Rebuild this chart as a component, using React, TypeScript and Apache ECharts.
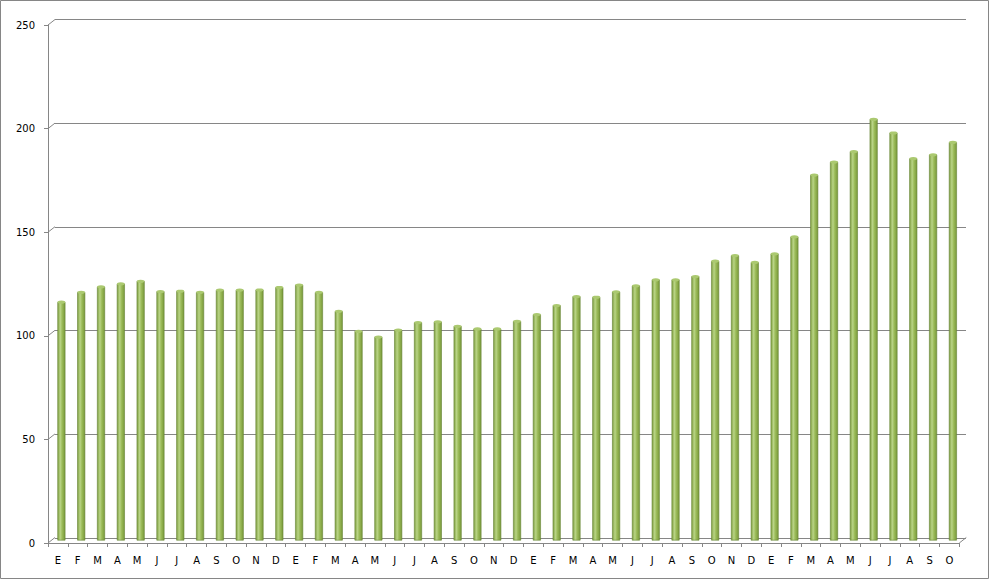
import React, { useEffect, useRef } from "react";
import * as echarts from "echarts";

const months: string[] = [
  "E", "F", "M", "A", "M", "J", "J", "A", "S", "O", "N", "D",
  "E", "F", "M", "A", "M", "J", "J", "A", "S", "O", "N", "D",
  "E", "F", "M", "A", "M", "J", "J", "A", "S", "O", "N", "D",
  "E", "F", "M", "A", "M", "J", "J", "A", "S", "O",
];

const values: number[] = [
  115, 119.8, 122.4, 123.8, 125.1, 120.1, 120.3, 119.8, 120.8, 120.8, 120.9, 122.1,
  123.3, 119.7, 110.6, 101, 98.2, 101.6, 105.2, 105.5, 103.4, 102.1, 102.1, 105.8,
  109, 113.4, 117.7, 117.4, 120, 122.9, 125.8, 125.8, 127.4, 134.8, 137.5, 134.2,
  138.3, 146.5, 176.3, 182.6, 187.6, 203.2, 196.6, 184.2, 186.1, 192.1,
];

const yTicks: number[] = [0, 50, 100, 150, 200, 250];

const GREY = "#868686";

export default function App() {
  const ref = useRef<HTMLDivElement>(null);

  useEffect(() => {
    document.body.style.margin = "0";
    const chart = echarts.init(ref.current!, undefined, { renderer: "svg" });
    const font = { fontFamily: "DejaVu Sans", fontSize: 10, color: "#000" };

    const barGradient = new echarts.graphic.LinearGradient(0, 0, 1, 0, [
      { offset: 0, color: "#7f9f40" },
      { offset: 0.35, color: "#b9d486" },
      { offset: 0.6, color: "#9bbb59" },
      { offset: 1, color: "#789839" },
    ]);

    chart.setOption({
      animation: false,
      backgroundColor: "#ffffff",
      graphic: [
        {
          type: "rect",
          shape: { x: 0.5, y: 0.5, width: 988, height: 578 },
          style: { fill: "none", stroke: GREY, lineWidth: 1 },
          z: -1,
        },
      ],
      grid: [
        { left: 48, top: 25, width: 911.3, height: 518 },
        { left: 55, top: 19.5, width: 911, height: 518.5 },
        { left: 51.5, top: 22, width: 911.3, height: 518.5 },
      ],
      xAxis: [
        {
          type: "category",
          gridIndex: 0,
          data: months,
          axisLine: { show: true, lineStyle: { color: GREY } },
          axisTick: { show: true, length: 4, lineStyle: { color: GREY } },
          axisLabel: { ...font, margin: 12, interval: 0 },
          splitLine: { show: false },
        },
        { type: "category", gridIndex: 1, data: months, show: false },
        { type: "category", gridIndex: 2, data: months, show: false },
      ],
      yAxis: [
        {
          type: "value",
          gridIndex: 0,
          min: 0,
          max: 250,
          interval: 50,
          axisLine: { show: true, lineStyle: { color: GREY } },
          axisTick: { show: true, length: 4, lineStyle: { color: GREY } },
          axisLabel: { ...font, margin: 13 },
          splitLine: { show: false },
        },
        {
          type: "value",
          gridIndex: 1,
          min: 0,
          max: 250,
          interval: 50,
          axisLine: { show: false },
          axisTick: { show: false },
          axisLabel: { show: false },
          splitLine: { show: true, lineStyle: { color: GREY, width: 1 } },
        },
        {
          type: "value",
          gridIndex: 2,
          min: 0,
          max: 250,
          interval: 50,
          show: false,
          splitLine: { show: false },
        },
      ],
      series: [
        {
          type: "custom",
          xAxisIndex: 0,
          yAxisIndex: 0,
          clip: false,
          silent: true,
          data: [...yTicks.map((v) => [0, v, 0]), [months.length - 1, 0, 1]],
          renderItem: (params: any, api: any) => {
            const idx = api.value(0);
            const v = api.value(1);
            const side = api.value(2);
            const p = api.coord([idx, v]);
            const half = api.size([1, 0])[0] / 2;
            const x0 = side === 1 ? p[0] + half : p[0] - half;
            return {
              type: "line",
              shape: { x1: x0, y1: p[1], x2: x0 + 7, y2: p[1] - 5.5 },
              style: { stroke: GREY, lineWidth: 1 },
            };
          },
          z: 1,
        },
        {
          type: "bar",
          xAxisIndex: 2,
          yAxisIndex: 2,
          data: values,
          barWidth: 8,
          itemStyle: {
            color: barGradient,
            borderColor: "#678535",
            borderWidth: 0.6,
          },
          z: 3,
        },
        {
          type: "pictorialBar",
          xAxisIndex: 2,
          yAxisIndex: 2,
          data: values,
          symbol: "circle",
          symbolSize: [8, 3],
          symbolPosition: "end",
          symbolOffset: [0, "-50%"],
          itemStyle: {
            color: "#abc970",
            borderColor: "#5f7d2c",
            borderWidth: 0.8,
          },
          z: 4,
        },
      ],
    });

    return () => chart.dispose();
  }, []);

  return <div ref={ref} style={{ width: 990, height: 580 }} />;
}
